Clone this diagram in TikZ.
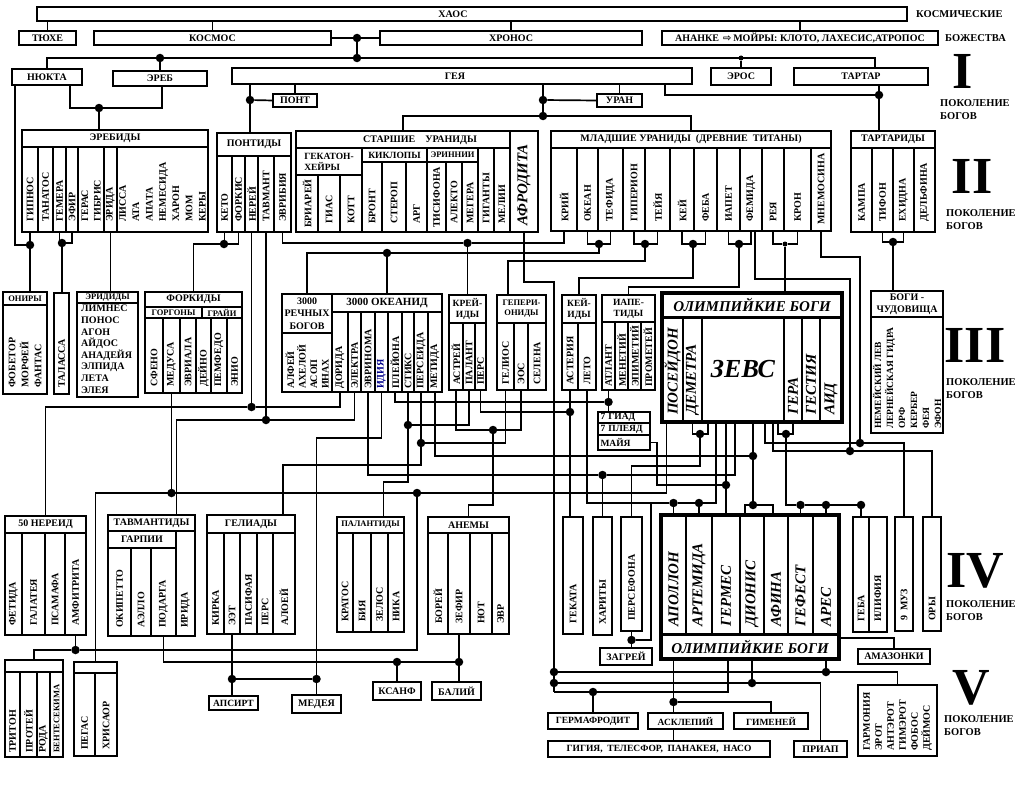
\documentclass[tikz,border=0pt]{standalone}
\usepackage{fontspec}
\setmainfont{Liberation Serif}
\newfontfamily\djv{DejaVu Sans}
\usetikzlibrary{positioning}
\newcommand\lblf{\fontsize{10}{12}\selectfont\bfseries}
\newcommand\lblfm{\fontsize{9.5}{11}\selectfont\bfseries}
\newcommand\lblfs{\fontsize{8.5}{10}\selectfont\bfseries}
\newcommand\lblfo{\fontsize{15}{17}\selectfont\bfseries\itshape}
% box with horizontal text: name, x1, y1, x2, y2, text
\newcommand\hcell[7][]{\node[cell,minimum width={(#5-#3)*1pt},minimum height={(#6-#4)*1pt},#1] (#2) at ({(#3+#5)/2},{(#4+#6)/2}) {#7};}
% column with upright text: name, x1, x2, ytop, ybot, offset, text
\newcommand\vcell[8][]{\node[cell,minimum width={(#4-#3)*1pt},minimum height={(#6-#5)*1pt}] (#2) at ({(#3+#4)/2},{(#5+#6)/2}) {};
  \node[vt,#1] (#2t) at ([yshift=#7pt]#2.south) {#8};}
\tikzset{
  cell/.style={draw,line width=1.6pt,inner sep=0pt,outer sep=0pt,font=\lblf,align=center},
  vt/.style={rotate=90,anchor=west,align=left,inner sep=0pt,font=\lblf},
  wire/.style={line width=1.7pt},
  dot/.style={circle,fill,inner sep=0pt,minimum size=8.5pt},
  sdot/.style={circle,fill,inner sep=0pt,minimum size=5pt},
  gen/.style={font=\fontsize{52}{52}\selectfont\bfseries,inner sep=0pt},
  pok/.style={font=\fontsize{10.5}{13}\selectfont\bfseries,align=left,anchor=west,inner sep=0pt},
}
\begin{document}
\begin{tikzpicture}[x=1pt,y=-1pt]
\fill[white] (0,0) rectangle (1024,800);
\useasboundingbox (0,0) rectangle (1024,800);

% cosmic gods
\hcell{haos}{37}{7}{907}{21}{}
\node[font=\lblf] (haost) at (453,14) {ХАОС};
\hcell{tyuhe}{19}{31}{76}{45}{ТЮХЕ}
\hcell{kosmos}{94}{31}{331}{45}{КОСМОС}
\hcell{hronos}{380}{31}{642}{45}{ХРОНОС}
\hcell{ananke}{662}{31}{938}{45}{АНАНКЕ {\djv\,⇨\,}МОЙРЫ: КЛОТО, ЛАХЕСИС,АТРОПОС}
\node[font=\fontsize{10.5}{12}\selectfont\bfseries,anchor=west,inner sep=0pt] (kosm) at (916,14) {КОСМИЧЕСКИЕ};
\node[font=\fontsize{10.5}{12}\selectfont\bfseries,anchor=west,inner sep=0pt] (bozh) at (945,38) {БОЖЕСТВА};

% generation I
\hcell{nyukta}{12}{69}{82}{85}{НЮКТА}
\hcell{ereb}{113}{71}{207}{86}{ЭРЕБ}
\hcell{geya}{232}{68}{692}{84}{}
\node[font=\lblf] (geyat) at (455,76) {ГЕЯ};
\hcell{eros}{711}{68}{771}{85}{ЭРОС}
\hcell{tartar}{794}{68}{928}{85}{ТАРТАР}
\hcell{pont}{273}{94}{317}{107}{ПОНТ}
\hcell{uran}{597}{94}{642}{107}{УРАН}
\node[gen] (gen1) at (963,71) {I};
\node[pok] (pok1) at (940,110) {ПОКОЛЕНИЕ\\БОГОВ};

% generation II
\hcell{erebidy}{22}{130}{208}{147}{ЭРЕБИДЫ}
\vcell{gipnos}{22}{38}{147}{232}{10}{ГИПНОС}
\vcell{tanatos}{38}{53}{147}{232}{10}{ТАНАТОС}
\vcell{gemera}{53}{66}{147}{232}{10}{ГЕМЕРА}
\vcell{efir}{66}{78}{147}{232}{10}{ЭФИР}
\vcell[font=\fontsize{10}{12.5}\selectfont\bfseries]{geras}{78}{104}{147}{232}{10}{ГЕРАС\\ГИБРИС}
\vcell{erida}{104}{117}{147}{232}{10}{ЭРИДА}
\vcell[font=\fontsize{10}{13.3}\selectfont\bfseries]{lissa}{117}{208}{147}{232}{10}{ЛИССА\\АТА\\АПАТА\\НЕМЕСИДА\\ХАРОН\\МОМ\\КЕРЫ}

\hcell{pontidy}{217}{133}{291}{156}{ПОНТИДЫ}
\vcell{keto}{217}{232}{156}{232}{10}{КЕТО}
\vcell{forkis}{232}{245}{156}{232}{10}{ФОРКИС}
\vcell{nerey}{245}{258}{156}{232}{10}{НЕРЕЙ}
\vcell{tavmant}{258}{274}{156}{232}{10}{ТАВМАНТ}
\vcell{evribiya}{274}{291}{156}{232}{10}{ЭВРИБИЯ}

\hcell{starshie}{296}{131}{510}{148}{}
\node[font=\lblf] (starshiet) at (420,140) {СТАРШИЕ\quad УРАНИДЫ};
\hcell[align=left,font=\lblfm]{gekaton}{296}{148}{362}{175}{ГЕКАТОН-\\ХЕЙРЫ}
\hcell[font=\lblfm]{kiklopy}{362}{148}{427}{162}{КИКЛОПЫ}
\hcell[font=\lblfs]{erinii}{427}{148}{478}{162}{ЭРИННИИ}
\vcell{briarey}{296}{318}{175}{232}{4}{БРИАРЕЙ}
\vcell{gias}{318}{340}{175}{232}{8}{ГИАС}
\vcell{kott}{340}{362}{175}{232}{8}{КОТТ}
\vcell{bront}{362}{382}{162}{232}{8}{БРОНТ}
\vcell{sterop}{382}{406}{162}{232}{8}{СТЕРОП}
\vcell{arg}{406}{427}{162}{232}{8}{АРГ}
\vcell{tisifona}{427}{446}{162}{232}{4}{ТИСИФОНА}
\vcell{alekto}{446}{462}{162}{232}{8}{АЛЕКТО}
\vcell{megera}{462}{478}{162}{232}{8}{МЕГЕРА}
\vcell{giganty}{478}{494}{148}{232}{8}{ГИГАНТЫ}
\vcell{melii}{494}{510}{148}{232}{8}{МЕЛИИ}
\vcell[font=\lblfo]{afrodita}{510}{538}{131}{232}{6}{АФРОДИТА}

\hcell{mladshie}{551}{131}{831}{148}{МЛАДШИЕ УРАНИДЫ\ \ (ДРЕВНИЕ\ \ ТИТАНЫ)}
\vcell{kriy}{551}{577}{148}{231}{9}{КРИЙ}
\vcell{okean}{577}{598}{148}{231}{9}{ОКЕАН}
\vcell{tefida}{598}{623}{148}{231}{9}{ТЕФИДА}
\vcell{giperion}{623}{645}{148}{231}{9}{ГИПЕРИОН}
\vcell{teyya}{645}{670}{148}{231}{9}{ТЕЙЯ}
\vcell{key}{670}{694}{148}{231}{9}{КЕЙ}
\vcell{feba}{694}{717}{148}{231}{9}{ФЕБА}
\vcell{iapet}{717}{740}{148}{231}{9}{ИАПЕТ}
\vcell{femida}{740}{762}{148}{231}{9}{ФЕМИДА}
\vcell{reya}{762}{784}{148}{231}{9}{РЕЯ}
\vcell{kron}{784}{811}{148}{231}{9}{КРОН}
\vcell{mnemosina}{811}{831}{148}{231}{6}{МНЕМОСИНА}

\hcell{tartaridy}{851}{131}{935}{148}{ТАРТАРИДЫ}
\vcell{kampa}{851}{872}{148}{232}{10}{КАМПА}
\vcell{tifon}{872}{893}{148}{232}{10}{ТИФОН}
\vcell{ehidna}{893}{914}{148}{232}{10}{ЕХИДНА}
\vcell{delfina}{914}{935}{148}{232}{10}{ДЕЛЬФИНА}
\node[gen] (gen2) at (972,176) {II};
\node[pok] (pok2) at (946,220) {ПОКОЛЕНИЕ\\БОГОВ};

% generation III
\hcell[font=\lblfs]{oniry}{3}{292}{47}{305}{ОНИРЫ}
\vcell[font=\fontsize{10}{13}\selectfont\bfseries]{onirb}{3}{47}{305}{394}{6}{ФОБЕТОР\\МОРФЕЙ\\ФАНТАС}
\vcell{talassa}{54}{69}{293}{394}{6}{ТАЛАССА}
\hcell[font=\lblfs]{eridi}{77}{292}{138}{303}{ЭРИДИДЫ}
\hcell{eridib}{77}{303}{138}{397}{}
\node[font=\fontsize{10}{11.6}\selectfont\bfseries,align=left,anchor=north west,inner sep=0pt] (eridit) at (81,305) {ЛИМНЕС\\ПОНОС\\АГОН\\АЙДОС\\АНАДЕЙЯ\\ЭЛПИДА\\ЛЕТА\\ЭЛЕЯ};

\hcell{forkidy}{145}{292}{242}{307}{ФОРКИДЫ}
\hcell[font=\lblfs]{gorgony}{145}{307}{202}{318}{ГОРГОНЫ}
\hcell[font=\lblfs]{grayi}{202}{307}{242}{318}{ГРАЙИ}
\vcell{sfeno}{145}{163}{318}{393}{6}{СФЕНО}
\vcell{medusa}{163}{180}{318}{393}{6}{МЕДУСА}
\vcell{evriala}{180}{196}{318}{393}{6}{ЭВРИАЛА}
\vcell{deyno}{196}{211}{318}{393}{6}{ДЕЙНО}
\vcell{pemfedo}{211}{227}{318}{393}{6}{ПЕМФЕДО}
\vcell{enio}{227}{242}{318}{393}{6}{ЭНИО}

\hcell[font=\fontsize{10}{12.5}\selectfont\bfseries]{rechnyh}{282}{294}{332}{333}{3000\\РЕЧНЫХ\\БОГОВ}
\vcell[font=\fontsize{10}{11.5}\selectfont\bfseries]{rechnyhb}{282}{332}{333}{392}{3}{АЛФЕЙ\\АХЕЛОЙ\\АСОП\\ИНАХ}
\hcell[font=\fontsize{11}{13}\selectfont\bfseries]{okeanid}{332}{294}{442}{312}{3000 ОКЕАНИД}
\vcell{dorida}{332}{348}{312}{392}{3}{ДОРИДА}
\vcell{elektra}{348}{361}{312}{392}{3}{ЭЛЕКТРА}
\vcell{evrinoma}{361}{375}{312}{392}{3}{ЭВРИНОМА}
\vcell[text=blue!55!black]{idiya}{375}{388}{312}{392}{3}{ИДИЯ}
\vcell{pleyona}{388}{402}{312}{392}{3}{ПЛЕЙОНА}
\vcell{stiks}{402}{414}{312}{392}{3}{СТИКС}
\vcell{perseida}{414}{428}{312}{392}{3}{ПЕРСЕИДА}
\vcell{metida}{428}{442}{312}{392}{3}{МЕТИДА}

\hcell[font=\lblfm]{kreyidy}{449}{295}{486}{323}{КРЕЙ-\\ИДЫ}
\vcell{astrey}{449}{463}{323}{390}{5}{АСТРЕЙ}
\vcell{palant}{463}{475}{323}{390}{5}{ПАЛАНТ}
\vcell{pers}{475}{486}{323}{390}{5}{ПЕРС}
\hcell[font=\lblfs]{geperionidy}{497}{295}{546}{323}{ГЕПЕРИ-\\ОНИДЫ}
\vcell{gelios}{497}{514}{323}{390}{5}{ГЕЛИОС}
\vcell{eos}{514}{528}{323}{390}{5}{ЭОС}
\vcell{selena}{528}{546}{323}{390}{5}{СЕЛЕНА}
\hcell[font=\lblfm]{keyidy}{562}{295}{596}{323}{КЕЙ-\\ИДЫ}
\vcell{asteriya}{562}{578}{323}{390}{5}{АСТЕРИЯ}
\vcell{leto}{578}{596}{323}{390}{5}{ЛЕТО}
\hcell[font=\lblfm]{iapetidy}{602}{295}{655}{322}{ИАПЕ-\\ТИДЫ}
\vcell{atlant}{602}{615}{322}{390}{3}{АТЛАНТ}
\vcell{menetiy}{615}{628}{322}{390}{3}{МЕНЕТИЙ}
\vcell{epimetiy}{628}{641}{322}{390}{3}{ЭПИМЕТИЙ}
\vcell{prometey}{641}{655}{322}{390}{3}{ПРОМЕТЕЙ}
\hcell[font=\lblfm,text width=47pt,align=left]{giad}{598}{412}{650}{423}{7 ГИАД}
\hcell[font=\lblfm,text width=47pt,align=left]{pleyad}{598}{423}{650}{435}{7 ПЛЕЯД}
\hcell[font=\lblfm,text width=47pt,align=left]{mayya}{598}{435}{650}{450}{МАЙЯ}

\hcell[font=\lblfo,line width=3pt]{olimp3h}{662}{293}{842}{317}{ОЛИМПИЙКИЕ БОГИ}
\vcell[font=\lblfo]{poseydon}{662}{683}{317}{422}{7}{ПОСЕЙДОН}
\vcell[font=\lblfo]{demetra}{683}{702}{317}{422}{7}{ДЕМЕТРА}
\hcell[font=\fontsize{26}{26}\selectfont\bfseries\itshape]{zevs}{702}{317}{784}{422}{ЗЕВС}
\vcell[font=\lblfo]{gera}{784}{802}{317}{422}{7}{ГЕРА}
\vcell[font=\lblfo]{gestiya}{802}{820}{317}{422}{7}{ГЕСТИЯ}
\vcell[font=\lblfo]{aid}{820}{842}{317}{422}{7}{АИД}
\hcell[line width=4pt]{olimp3}{662}{293}{842}{422}{}

\hcell{chud}{871}{291}{943}{317}{БОГИ -\\ЧУДОВИЩА}
\vcell[font=\fontsize{9.5}{12}\selectfont\bfseries]{chudb}{871}{943}{317}{433}{4}{НЕМЕЙСКИЙ ЛЕВ\\ЛЕРНЕЙСКАЯ ГИДРА\\ОРФ\\КЕРБЕР\\ФЕЯ\\ЭФОН}
\node[gen] (gen3) at (975,345) {III};
\node[pok] (pok3) at (946,389) {ПОКОЛЕНИЕ\\БОГОВ};

% generation IV
\hcell{nereid}{5}{516}{86}{533}{50 НЕРЕИД}
\vcell{fetida}{5}{22}{533}{635}{9}{ФЕТИДА}
\vcell{galateya}{22}{45}{533}{635}{9}{ГАЛАТЕЯ}
\vcell{psamafa}{45}{65}{533}{635}{9}{ПСАМАФА}
\vcell{amfitrita}{65}{86}{533}{635}{9}{АМФИТРИТА}
\hcell{tavmantidy}{108}{515}{195}{531}{ТАВМАНТИДЫ}
\hcell{garpii}{108}{531}{176}{548}{ГАРПИИ}
\vcell{okipetto}{108}{131}{548}{636}{8}{ОКИПЕТТО}
\vcell{aello}{131}{151}{548}{636}{8}{АЭЛЛО}
\vcell{podarga}{151}{176}{548}{636}{8}{ПОДАРГА}
\vcell{irida}{176}{195}{531}{636}{8}{ИРИДА}
\hcell{geliady}{207}{515}{295}{533}{ГЕЛИАДЫ}
\vcell{kirka}{207}{224}{533}{634}{8}{КИРКА}
\vcell{eet}{224}{240}{533}{634}{8}{ЭЭТ}
\vcell{pasifaya}{240}{257}{533}{634}{8}{ПАСИФАЯ}
\vcell{pers2}{257}{273}{533}{634}{8}{ПЕРС}
\vcell{aloey}{273}{295}{533}{634}{8}{АЛОЕЙ}
\hcell[font=\lblfs]{palantidy}{337}{517}{404}{533}{ПАЛАНТИДЫ}
\vcell{kratos}{337}{353}{533}{632}{10}{КРАТОС}
\vcell{biya}{353}{371}{533}{632}{10}{БИЯ}
\vcell{zelos}{371}{388}{533}{632}{10}{ЗЕЛОС}
\vcell{nika}{388}{404}{533}{632}{10}{НИКА}
\hcell{anemy}{428}{517}{509}{533}{АНЕМЫ}
\vcell{borey}{428}{448}{533}{634}{10}{БОРЕЙ}
\vcell{zefir}{448}{470}{533}{634}{10}{ЗЕФИР}
\vcell{notus}{470}{492}{533}{634}{10}{НОТ}
\vcell{evr}{492}{509}{533}{634}{10}{ЭВР}
\vcell{gekata}{563}{583}{517}{634}{10}{ГЕКАТА}
\vcell{harity}{593}{612}{517}{635}{10}{ХАРИТЫ}
\vcell{persefona}{621}{642}{517}{631}{10}{ПЕРСЕФОНА}
\vcell[font=\lblfo]{apollon}{661}{686}{515}{634}{7}{АПОЛЛОН}
\vcell[font=\lblfo]{artemida}{686}{712}{515}{634}{7}{АРТЕМИДА}
\vcell[font=\lblfo]{germes}{712}{740}{515}{634}{7}{ГЕРМЕС}
\vcell[font=\lblfo]{dionis}{740}{764}{515}{634}{7}{ДИОНИС}
\vcell[font=\lblfo]{afina}{764}{788}{515}{634}{7}{АФИНА}
\vcell[font=\lblfo]{gefest}{788}{813}{515}{634}{7}{ГЕФЕСТ}
\vcell[font=\lblfo]{ares}{813}{839}{515}{634}{7}{АРЕС}
\hcell[font=\lblfo,line width=3pt]{olimp4f}{661}{634}{839}{659}{ОЛИМПИЙКИЕ БОГИ}
\hcell[line width=4pt]{olimp4}{661}{515}{839}{659}{}
\vcell{geba}{853}{869}{517}{632}{10}{ГЕБА}
\vcell{ilifiya}{869}{887}{517}{632}{10}{ИЛИФИЯ}
\vcell{muz}{895}{913}{517}{631}{10}{9\ \ МУЗ}
\vcell{ory}{923}{941}{517}{631}{10}{ОРЫ}
\hcell{amazonki}{858}{649}{930}{664}{АМАЗОНКИ}
\node[gen] (gen4) at (975,571) {IV};
\node[pok] (pok4) at (946,611) {ПОКОЛЕНИЕ\\БОГОВ};

% generation V
\hcell{tritonh}{5}{660}{63}{672}{}
\vcell{triton}{5}{20}{672}{757}{4}{ТРИТОН}
\vcell{protey}{20}{37}{672}{757}{4}{ПРОТЕЙ}
\vcell{roda}{37}{50}{672}{757}{4}{РОДА}
\vcell[font=\lblfs]{bentesekima}{50}{63}{672}{757}{4}{БЕНТЕСЕКИМА}
\hcell{pegash}{74}{662}{117}{673}{}
\vcell{pegas}{74}{95}{673}{756}{6}{ПЕГАС}
\vcell{hrisaor}{95}{117}{673}{756}{6}{ХРИСАОР}
\hcell[font=\lblfm]{apsirt}{209}{696}{258}{710}{АПСИРТ}
\hcell[line width=2.6pt]{medeya}{292}{695}{341}{713}{МЕДЕЯ}
\hcell{ksanf}{373}{682}{421}{700}{КСАНФ}
\hcell{baliy}{432}{682}{481}{700}{БАЛИЙ}
\hcell{zagrey}{600}{648}{652}{665}{ЗАГРЕЙ}
\hcell[font=\lblfm]{germafrodit}{548}{713}{638}{729}{ГЕРМАФРОДИТ}
\hcell[font=\lblfm]{asklepiy}{648}{713}{723}{729}{АСКЛЕПИЙ}
\hcell[font=\lblfm]{gimeney}{734}{713}{808}{729}{ГИМЕНЕЙ}
\hcell[font=\lblfm]{gigiya}{548}{741}{770}{757}{ГИГИЯ,\ \ ТЕЛЕСФОР,\ \ ПАНАКЕЯ,\ \ НАСО}
\hcell{priap}{794}{741}{847}{757}{ПРИАП}
\vcell[font=\fontsize{10}{12}\selectfont\bfseries]{garmoniya}{858}{937}{685}{756}{5}{ГАРМОНИЯ\\ЭРОТ\\АНТЭРОТ\\ГИМЭРОТ\\ФОБОС\\ДЕЙМОС}
\node[gen] (gen5) at (971,688) {V};
\node[pok] (pok5) at (944,726) {ПОКОЛЕНИЕ\\БОГОВ};

% junction dots
\node[dot] (k1) at (357,38) {};
\node[dot] (k2) at (357,58) {};
\node[dot] (k3) at (160,58) {};
\node[sdot] (k4) at (741,58) {};
\coordinate (k5) at (875,58);
\node[dot] (u1) at (99,108) {};
\node[dot] (g1) at (250,100) {};
\node[dot] (g2) at (543,100) {};
\node[dot] (g3) at (543,116) {};
\node[dot] (t1) at (879,95) {};
\node[dot] (n1) at (30,245) {};
\node[dot] (n2) at (62,243) {};
\node[dot] (p1) at (224,244) {};
\node[dot] (r1) at (251.5,407) {};
\node[dot] (r2) at (266,420) {};
\node[dot] (c1) at (467.5,243) {};
\node[dot] (o1) at (599,244) {};
\node[dot] (o2) at (387,253) {};
\node[dot] (h1) at (645,244) {};
\coordinate (h2) at (508,261);
\node[dot] (k6) at (693,244) {};
\coordinate (k7) at (579,278);
\node[dot] (i1) at (739,244) {};
\coordinate (i2) at (628.5,287);
\node[sdot] (rk) at (785,244) {};
\coordinate (f0) at (850,279);
\node[dot] (f1) at (850,451) {};
\coordinate (m0) at (860,257);
\node[dot] (m1) at (860,443) {};
\node[dot] (ty) at (893,242) {};
\node[dot] (dz) at (700,434) {};
\coordinate (pf) at (631.5,466);
\node[dot] (gz) at (786,434) {};
\node[dot] (gf) at (800.5,505) {};
\node[dot] (ga) at (826,505) {};
\node[dot] (gb) at (861,505) {};
\node[dot] (ap) at (673.5,503) {};
\node[dot] (ar) at (699,503) {};
\coordinate (lz) at (716,503);
\node[dot] (mh) at (726,485) {};
\coordinate (my1) at (657,485);
\node[dot] (ev) at (602.5,475) {};
\coordinate (ev0) at (735,475);
\node[dot] (mt) at (753,456) {};
\node[dot] (dn) at (753,505) {};
\node[dot] (zg) at (631.5,640) {};
\coordinate (zg2) at (651,503);
\coordinate (ps0) at (95.5,493);
\node[dot] (md) at (171.5,493) {};
\node[dot] (ps) at (417,493) {};
\node[dot] (am) at (75.5,650) {};
\node[dot] (kx) at (397,662) {};
\node[dot] (zf) at (459,662) {};
\node[dot] (ee) at (232,679) {};
\node[dot] (me) at (316.5,679) {};
\coordinate (id0) at (316.5,438);
\node[dot] (atd) at (608.5,402) {};
\node[dot] (asd) at (570,412) {};
\node[dot] (ge) at (421,443) {};
\coordinate (ge1) at (421,465);
\node[dot] (st) at (408,425) {};
\coordinate (st1) at (408,482);
\node[dot] (ae) at (493,430) {};
\coordinate (ae1) at (493,505);
\coordinate (af0) at (554,282);
\node[dot] (a1) at (554,672) {};
\node[dot] (a2) at (554,683) {};
\coordinate (a3) at (554,692);
\node[dot] (ah) at (826,672) {};
\node[dot] (dp) at (752,683) {};
\node[dot] (hf) at (593,692) {};
\coordinate (gm) at (728,659);
\coordinate (ap0) at (673.5,659);
\node[dot] (ac) at (673.5,702) {};
\coordinate (az) at (894,638);

% top connectors
\draw[wire] (tyuhe.north) -- (tyuhe.north |- haos.south);
\draw[wire] (kosmos.north) -- (kosmos.north |- haos.south);
\draw[wire] (hronos.north) -- (hronos.north |- haos.south);
\draw[wire] (ananke.north) -- (ananke.north |- haos.south);
\draw[wire] (kosmos.east) -- (k1) -- (hronos.west);
\draw[wire] (k1) -- (k2);
\draw[wire] (nyukta.north) |- (k2) -- (k5) -- (k5 |- tartar.north);
\draw[wire] (k3) -- (ereb.north);
\draw[wire] (k4) -- (eros.north);
\draw[wire] ([xshift=23pt]nyukta.south) |- (u1) -| ([xshift=2pt]ereb.south);
\draw[wire] (u1) -- (u1 |- erebidy.north);
\draw[wire] (g1 |- geya.south) -- (g1 |- pontidy.north);
\draw[wire] (g1) -- (pont.west);
\draw[wire] (pont.north) -- (pont.north |- geya.south);
\draw[wire] (g2 |- geya.south) -- (g3);
\draw[wire] (g2) -- (uran.west);
\draw[wire] (uran.north) -- (uran.north |- geya.south);
\draw[wire] (starshie.north) |- (g3) -| (mladshie.north);
\draw[wire] ([xshift=-27pt]geya.south east) |- (t1);
\draw[wire] (t1 |- tartar.south) -- (t1 |- tartaridy.north);

% generation II to III
\draw[wire] ([xshift=-32pt]nyukta.south) |- (n1);
\draw[wire] (gipnos.south) -- (gipnos.south |- oniry.north);
\draw[wire] (gemera.south) |- (n2);
\draw[wire] (efir.south) |- (n2);
\draw[wire] (n2) -- (n2 |- talassa.north);
\draw[wire] (erida.south) -- (erida.south |- eridi.north);
\draw[wire] (keto.south) |- (p1);
\draw[wire] (forkis.south) |- (p1) -| (forkidy.north);
\draw[wire] (nerey.south) -- (r1);
\draw[wire] (dorida.south) |- (r1) -| (nereid.north);
\draw[wire] (tavmant.south) -- (r2);
\draw[wire] (elektra.south) |- (r2) -| ([xshift=25pt]tavmantidy.north);
\draw[wire] (evribiya.south) |- (c1) -| (kriy.south);
\draw[wire] (c1) -- (kreyidy.north);
\draw[wire] (okean.south) |- (o1);
\draw[wire] (tefida.south) |- (o1);
\draw[wire] (o1) |- (o2) -| (rechnyh.north);
\draw[wire] (o2) -- (okeanid.north);
\draw[wire] (giperion.south) |- (h1);
\draw[wire] (teyya.south) |- (h1);
\draw[wire] (h1) |- (h2) -- (h2 |- geperionidy.north);
\draw[wire] (key.south) |- (k6);
\draw[wire] (feba.south) |- (k6);
\draw[wire] (k6) |- (k7) -- (keyidy.north);
\draw[wire] (iapet.south) |- (i1);
\draw[wire] (femida.south) |- (i1);
\draw[wire] (i1) |- (i2) -- (iapetidy.north);
\draw[wire] (reya.south) |- (rk);
\draw[wire] (kron.south) |- (rk);
\draw[wire] (rk) -- (rk |- olimp3.north);
\draw[wire] ([xshift=4pt]femida.south) |- (f0) -- (f1);
\draw[wire] (mnemosina.south) |- (m0) -- (m1);
\draw[wire] (tifon.south) |- (ty);
\draw[wire] (ehidna.south) |- (ty);
\draw[wire] (ty) -- (ty |- chud.north);
\draw[wire] (afrodita.south) |- (af0) -- (a3);

% generation III to IV
\draw[wire] ([xshift=22pt]zevs.south) |- (m1) -| (muz.north);
\draw[wire] ([xshift=30pt]zevs.south) |- (f1) -| (ory.north);
\draw[wire] (demetra.south) |- (dz);
\draw[wire] ([xshift=-35pt]zevs.south) |- (dz);
\draw[wire] (dz) |- (pf) -- (persefona.north);
\draw[wire] ([xshift=35pt]zevs.south) |- (gz);
\draw[wire] (gera.south) |- (gz);
\draw[wire] (gz) |- (gf) -- (ga) -- (gb) -- (gb |- geba.north);
\draw[wire] (gf) -- (gefest.north);
\draw[wire] (ga) -- (ares.north);
\draw[wire] (leto.south) |- (ap) -- (lz) -- ([xshift=-27pt]zevs.south);
\draw[wire] (ap) -- (apollon.north);
\draw[wire] (ar) -- (artemida.north);
\draw[wire] ([xshift=-17pt]zevs.south) -- (germes.north);
\draw[wire] (mayya.east) -| (my1) -- (mh);
\draw[wire] (evrinoma.south) |- (ev) -- (ev0) -- ([xshift=-8pt]zevs.south);
\draw[wire] (ev) -- (harity.north);
\draw[wire] (metida.south) |- (mt);
\draw[wire] ([xshift=10pt]zevs.south) -- (dn);
\draw[wire] ([xshift=-7pt]dionis.north) |- (dn) -| ([xshift=-3pt]afina.north);
\draw[wire] (persefona.south) -- (zg) -- (zg |- zagrey.north);
\draw[wire] (zg) -| (zg2);
\draw[wire] ([xshift=-6pt]poseydon.south) |- (ps0) -- (pegash.north);
\draw[wire] (medusa.south) -- (md);
\draw[wire] (amfitrita.south) -- (am);
\draw[wire] (tritonh.north) |- (am) -| (ps);
\draw[wire] (podarga.south) |- (kx) -- (zf);
\draw[wire] (kx) -- (ksanf.north);
\draw[wire] (zefir.south) -- (zf) -- (zf |- baliy.north);
\draw[wire] (eet.south) -- (ee) -- (me);
\draw[wire] (ee) -- (ee |- apsirt.north);
\draw[wire] (idiya.south) |- (id0) -- (medeya.north);
\draw[wire] (pleyona.south) |- (atd);
\draw[wire] (atlant.south) -- (giad.north -| atlant.south);
\draw[wire] (pers.south) |- (asd);
\draw[wire] (asteriya.south) -- (gekata.north -| asteriya.south);
\draw[wire] (perseida.south) -- (ge) -- (ge1) -| ([xshift=32pt]geliady.north);
\draw[wire] (gelios.south) |- (ge);
\draw[wire] (stiks.south) -- (st) -- (st1) -| ([xshift=13pt]palantidy.north);
\draw[wire] (palant.south) |- (st);
\draw[wire] (astrey.south) |- (ae);
\draw[wire] (eos.south) |- (ae);
\draw[wire] (ae) -- (ae1) -| (anemy.north);

% generation IV to V
\draw[wire] (ah |- olimp4.south) -- (ah);
\draw[wire] (a1) -- (ah) -| (garmoniya.north);
\draw[wire] (dp |- olimp4.south) -- (dp);
\draw[wire] (a2) -- (dp) -| (priap.north);
\draw[wire] (a3) -| (gm);
\draw[wire] (hf) -- (germafrodit.north);
\draw[wire] (ap0) -- (ap0 |- asklepiy.north);
\draw[wire] (ac) -| (gimeney.north);
\draw[wire] (ap0 |- asklepiy.south) -- (ap0 |- gigiya.north);
\draw[wire] (olimp4.east |- az) -| (amazonki.north);
\end{tikzpicture}
\end{document}
